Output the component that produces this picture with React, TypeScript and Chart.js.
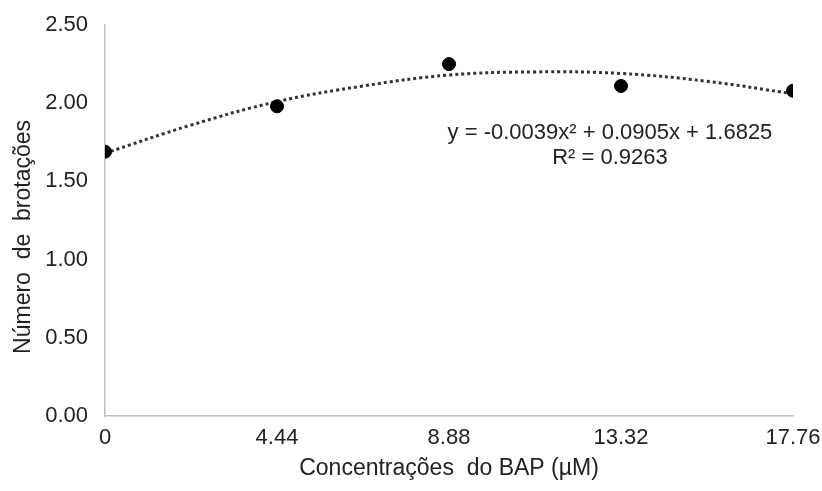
import React, { useEffect, useRef } from "react";
import { Chart, registerables } from "chart.js";

Chart.register(...registerables);

// Data
const concentrations = [0, 4.44, 8.88, 13.32, 17.76];
const shoots = [1.69, 1.98, 2.25, 2.11, 2.08];
const xTickLabels = ["0", "4.44", "8.88", "13.32", "17.76"];
// Dotted polynomial trend line
const trendX = [0, 2.22, 4.44, 6.66, 8.88, 11.1, 13.32, 15.54, 17.76];
const trendY = [1.68, 1.86, 2.01, 2.11, 2.18, 2.2, 2.19, 2.14, 2.06];
const equationLines = ["y = -0.0039x² + 0.0905x + 1.6825", "R² = 0.9263"];
const xTitle = "Concentrações  do BAP (µM)";
const yTitle = "Número  de  brotações";

const FONT = "'Liberation Sans', Arial, sans-serif";
const TEXT = "#222222";

const textPlugin = {
  id: "texts",
  afterDatasetsDraw(chart: any) {
    const { ctx, chartArea } = chart;
    const w = chartArea.right - chartArea.left;
    const h = chartArea.bottom - chartArea.top;
    ctx.save();
    ctx.fillStyle = TEXT;
    ctx.textAlign = "center";
    ctx.textBaseline = "middle";
    // trend equation
    ctx.font = `22px ${FONT}`;
    const cx = chartArea.left + 0.734 * w;
    equationLines.forEach((t, i) => {
      ctx.fillText(t, cx, chartArea.top + (0.276 + i * 0.064) * h);
    });
    // y axis title
    ctx.font = `23px ${FONT}`;
    ctx.translate(24, chartArea.top + 0.542 * h);
    ctx.rotate(-Math.PI / 2);
    ctx.fillText(yTitle, 0, 0);
    ctx.restore();
  },
};

export default function App() {
  const ref = useRef<HTMLCanvasElement | null>(null);
  useEffect(() => {
    if (!ref.current) return;
    const chart = new Chart(ref.current, {
      type: "scatter",
      data: {
        datasets: [
          {
            type: "line",
            label: "Tendência",
            data: trendX.map((x, i) => ({ x, y: trendY[i] })),
            borderColor: "#333333",
            borderWidth: 3,
            borderDash: [3, 3],
            pointRadius: 0,
            tension: 0.4,
            fill: false,
            order: 2,
          },
          {
            label: "Brotações",
            data: concentrations.map((x, i) => ({ x, y: shoots[i] })),
            backgroundColor: "#000000",
            borderColor: "#000000",
            pointRadius: 6.5,
            pointHoverRadius: 6.5,
            order: 1,
          },
        ],
      },
      options: {
        responsive: false,
        animation: false,
        layout: { padding: { top: 25, right: 29, left: 0, bottom: 0 } },
        plugins: {
          legend: { display: false },
          tooltip: { enabled: false },
        },
        scales: {
          x: {
            type: "linear",
            min: 0,
            max: 17.76,
            afterBuildTicks(scale: any) {
              scale.ticks = concentrations.map((v) => ({ value: v }));
            },
            afterFit(scale: any) {
              scale.height = 75;
              scale.paddingLeft = 0;
              scale.paddingRight = 0;
            },
            grid: { display: false, drawTicks: false, tickLength: 0 },
            border: { display: true, color: "#c0c0c0", width: 1.5 },
            ticks: {
              color: TEXT,
              font: { family: FONT, size: 22 },
              padding: 9,
              maxRotation: 0,
              autoSkip: false,
              callback: (_v: any, i: number) => xTickLabels[i],
            },
            title: {
              display: true,
              text: xTitle,
              color: TEXT,
              font: { family: FONT, size: 23 },
              padding: { top: 0, bottom: 9 },
            },
          },
          y: {
            min: 0,
            max: 2.5,
            afterFit(scale: any) {
              scale.width = 105;
              scale.paddingTop = 0;
              scale.paddingBottom = 0;
            },
            grid: { display: false, drawTicks: false, tickLength: 0 },
            border: { display: true, color: "#c0c0c0", width: 1.5 },
            ticks: {
              stepSize: 0.5,
              color: TEXT,
              font: { family: FONT, size: 22 },
              padding: 17,
              callback: (v: any) => Number(v).toFixed(2),
            },
          },
        },
      },
      plugins: [textPlugin],
    });
    return () => chart.destroy();
  }, []);
  return (
    <div style={{ position: "fixed", left: 0, top: 0, width: 822, height: 491, background: "#fff" }}>
      <canvas ref={ref} width={822} height={491} />
    </div>
  );
}
